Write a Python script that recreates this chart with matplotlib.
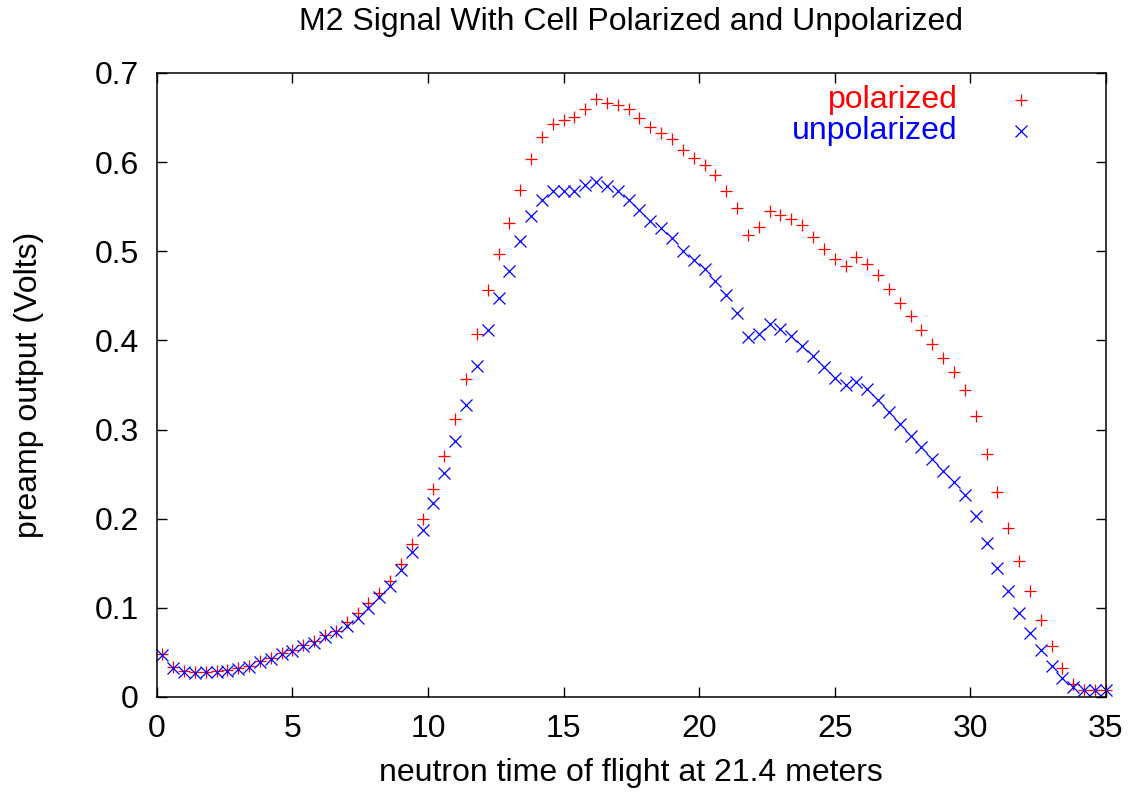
import numpy as np
import matplotlib
matplotlib.use('Agg')
import matplotlib.pyplot as plt

plt.rcParams['font.family'] = ['Liberation Sans', 'DejaVu Sans']

# tempo de voo (amostragem de 0.4 a partir de 0.2)
tempo = np.round(0.2 + 0.4 * np.arange(88), 1)

polarized = [
    0.048, 0.034, 0.029, 0.028, 0.028, 0.029, 0.030, 0.032, 0.035, 0.040,
    0.044, 0.049, 0.053, 0.058, 0.063, 0.070, 0.074, 0.084, 0.094, 0.105,
    0.117, 0.130, 0.149, 0.172, 0.200, 0.233, 0.270, 0.312, 0.357, 0.407,
    0.456, 0.497, 0.532, 0.569, 0.603, 0.628, 0.643, 0.647, 0.651, 0.660,
    0.671, 0.666, 0.664, 0.659, 0.649, 0.639, 0.633, 0.626, 0.613, 0.605,
    0.597, 0.585, 0.568, 0.548, 0.518, 0.527, 0.545, 0.541, 0.536, 0.529,
    0.516, 0.503, 0.491, 0.483, 0.493, 0.486, 0.473, 0.458, 0.442, 0.427,
    0.412, 0.396, 0.380, 0.364, 0.344, 0.315, 0.273, 0.230, 0.189, 0.152,
    0.119, 0.086, 0.057, 0.033, 0.015, 0.008, 0.008, 0.008,
]

unpolarized = [
    0.047, 0.033, 0.028, 0.027, 0.028, 0.028, 0.029, 0.031, 0.034, 0.039,
    0.043, 0.048, 0.052, 0.057, 0.061, 0.067, 0.073, 0.080, 0.089, 0.100,
    0.112, 0.125, 0.142, 0.163, 0.187, 0.218, 0.251, 0.287, 0.327, 0.371,
    0.412, 0.447, 0.478, 0.511, 0.540, 0.557, 0.567, 0.568, 0.567, 0.574,
    0.578, 0.573, 0.567, 0.558, 0.546, 0.534, 0.526, 0.515, 0.500, 0.490,
    0.480, 0.467, 0.451, 0.431, 0.404, 0.407, 0.418, 0.413, 0.405, 0.394,
    0.382, 0.370, 0.358, 0.350, 0.353, 0.345, 0.333, 0.320, 0.306, 0.293,
    0.280, 0.267, 0.254, 0.241, 0.226, 0.203, 0.173, 0.145, 0.119, 0.094,
    0.072, 0.053, 0.035, 0.021, 0.011, 0.008, 0.008, 0.008,
]

xticks = [0, 5, 10, 15, 20, 25, 30, 35]
yticks = [0, 0.1, 0.2, 0.3, 0.4, 0.5, 0.6, 0.7]
ytick_labels = ['0', '0.1', '0.2', '0.3', '0.4', '0.5', '0.6', '0.7']

FS = 23
fig = plt.figure(figsize=(11.33, 7.97), dpi=100)
ax = fig.add_axes([0.1385, 0.1255, 0.8375, 0.783])

ax.plot(tempo, polarized, linestyle='none', marker='+', color='#ff0000',
        markersize=9, markeredgewidth=0.9, clip_on=False)
ax.plot(tempo, unpolarized, linestyle='none', marker='x', color='#0000ff',
        markersize=8, markeredgewidth=0.9, clip_on=False)

ax.set_xlim(0, 35)
ax.set_ylim(0, 0.7)
ax.set_xticks(xticks)
ax.set_xticklabels([str(t) for t in xticks])
ax.set_yticks(yticks)
ax.set_yticklabels(ytick_labels)
ax.tick_params(direction='in', length=7, width=1, top=True, right=True,
               labelsize=FS)
ax.tick_params(axis='x', pad=12)
ax.tick_params(axis='y', pad=13)
for s in ax.spines.values():
    s.set_linewidth(1.1)

ax.set_title('M2 Signal With Cell Polarized and Unpolarized', fontsize=FS,
             y=1.082, va='center', pad=0)
ax.set_xlabel('neutron time of flight at 21.4 meters', fontsize=FS)
ax.set_ylabel('preamp output (Volts)', fontsize=FS)
ax.xaxis.set_label_coords(0.5, -0.122)
ax.xaxis.label.set_va('center')
ax.yaxis.set_label_coords(-0.135, 0.5)
ax.yaxis.label.set_va('center')

# chave estilo gnuplot (texto alinhado a direita + amostra)
ax.text(0.844, 0.957, 'polarized', color='#ff0000', fontsize=FS,
        ha='right', va='center', transform=ax.transAxes)
ax.text(0.844, 0.907, 'unpolarized', color='#0000ff', fontsize=FS,
        ha='right', va='center', transform=ax.transAxes)
ax.plot([0.911], [0.957], marker='+', color='#ff0000', markersize=9,
        markeredgewidth=0.9, transform=ax.transAxes)
ax.plot([0.911], [0.907], marker='x', color='#0000ff', markersize=8,
        markeredgewidth=0.9, transform=ax.transAxes)

plt.savefig('out.png', dpi=100)
plt.close()
